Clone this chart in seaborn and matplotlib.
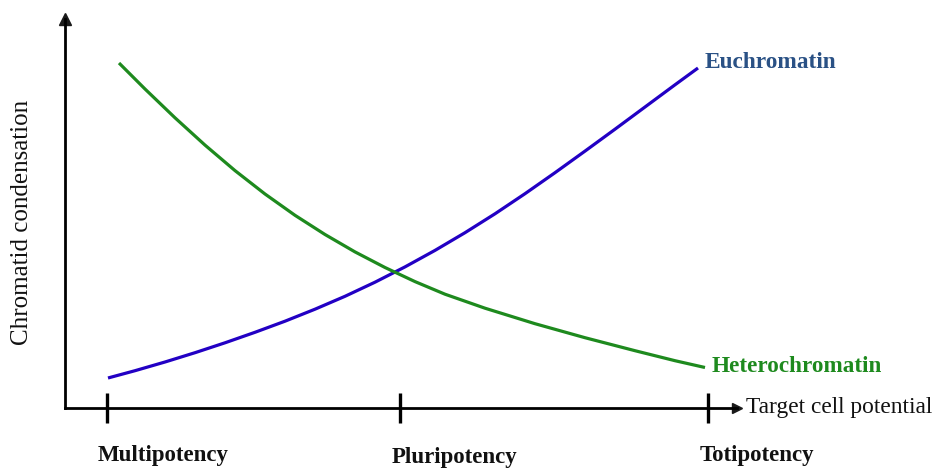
import matplotlib
matplotlib.use("Agg")
import matplotlib.pyplot as plt
import seaborn as sns
import pandas as pd

# ---- data (units: axis-relative) ----
stages = ["Multipotency", "Pluripotency", "Totipotency"]
stage_x = [42, 335, 643]

eu_x = [43, 70, 100, 130, 160, 190, 220, 250, 280, 310, 340, 370, 400, 430, 460, 490, 520, 550, 580, 610, 633]
eu_y = [30.0, 37.3, 46.0, 55.3, 65.2, 75.7, 86.8, 98.8, 111.7, 125.8, 141.1, 157.6, 175.3, 194.2,
        214.3, 235.3, 256.9, 278.8, 301.0, 323.2, 340.0]

het_x = [54, 80, 110, 140, 170, 200, 230, 260, 290, 320, 350, 380, 420, 470, 520, 570, 610, 640]
het_y = [345.0, 319.0, 290.2, 262.9, 237.4, 214.0, 192.7, 173.5, 156.1, 140.5, 126.4, 113.8,
         99.8, 84.3, 70.3, 57.3, 47.3, 40.5]

df = pd.concat([
    pd.DataFrame({"x": eu_x, "y": eu_y, "series": "Euchromatin"}),
    pd.DataFrame({"x": het_x, "y": het_y, "series": "Heterochromatin"}),
])

sns.set_theme(style="white")
plt.rcParams["font.family"] = ["Liberation Serif", "DejaVu Serif"]

W, H = 933, 468
fig = plt.figure(figsize=(W / 100, H / 100), dpi=100)
ax = fig.add_axes([65 / W, 60 / H, (737 - 65) / W, (408 - 19) / H])
ax.set_xlim(0, 672)
ax.set_ylim(0, 389)

blue = "#2200c4"
green = "#1e8a1e"
sns.lineplot(data=df, x="x", y="y", hue="series", palette={"Euchromatin": blue, "Heterochromatin": green},
             linewidth=2.3, legend=False, ax=ax, estimator=None, sort=False,
             solid_joinstyle="round", solid_capstyle="butt")

for s in ["top", "right"]:
    ax.spines[s].set_visible(False)
for s in ["left", "bottom"]:
    ax.spines[s].set_linewidth(2.0)
    ax.spines[s].set_color("black")
ax.plot(1, 0, ">k", markersize=7, transform=ax.transAxes, clip_on=False)
ax.plot(0, 1, "^k", markersize=9, transform=ax.transAxes, clip_on=False)

ax.set_xticks(stage_x)
ax.set_xticklabels([])
ax.set_yticks([])
ax.tick_params(axis="x", direction="inout", length=22, width=2.4, color="black", bottom=True)
ax.set_xlabel("")
ax.set_ylabel("")

label_dx = [56, 55, 49]
label_dy = [-47, -49, -47]
for sx, lab, dx, dy in zip(stage_x, stages, label_dx, label_dy):
    ax.annotate(lab, xy=(sx, 0), xytext=(dx, dy), textcoords="offset pixels",
                ha="center", va="center", fontsize=16.5, fontweight="bold", color="#111111")

ax.annotate("Target cell potential", xy=(1.0, 0), xycoords="axes fraction", xytext=(9, 0),
            textcoords="offset pixels", ha="left", va="center", fontsize=16.8, color="#111111",
            annotation_clip=False)
fig.text(22 / W, 1 - 222 / H, "Chromatid condensation", rotation=90, ha="center", va="center",
         fontsize=18, color="#111111")

ax.annotate("Euchromatin", xy=(eu_x[-1], eu_y[-1]), xytext=(7, 6), textcoords="offset pixels",
            ha="left", va="center", fontsize=16.8, fontweight="bold", color="#2a5185")
ax.annotate("Heterochromatin", xy=(het_x[-1], het_y[-1]), xytext=(7, 1), textcoords="offset pixels",
            ha="left", va="center", fontsize=16.7, fontweight="bold", color=green)

fig.savefig("out.png", dpi=100)
